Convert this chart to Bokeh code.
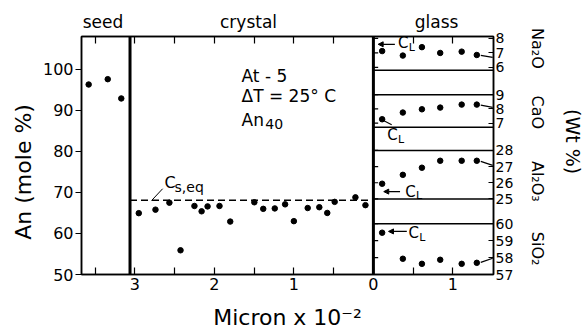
import math
from bokeh.plotting import figure
from bokeh.models import Range1d, LinearAxis, FixedTicker, Label, Arrow, NormalHead, Span
from bokeh.embed import file_html
from bokeh.resources import INLINE

# ---------------- data (distance in micron x 10^-2) ----------------
seed_dist = [3.58, 3.34, 3.17]
seed_an = [96.3, 97.6, 92.9]

crystal_dist = [2.95, 2.74, 2.565, 2.425, 2.25, 2.16, 2.085, 1.935, 1.80,
                1.497, 1.385, 1.24, 1.11, 1.00, 0.826, 0.68, 0.58, 0.487, 0.226, 0.10]
crystal_an = [64.95, 65.8, 67.5, 55.9, 66.7, 65.4, 66.6, 66.7, 62.9,
              67.6, 66.0, 66.1, 67.1, 63.0, 66.2, 66.4, 65.0, 67.7, 68.8, 66.9]
cs_eq = 68.1
seed_boundary = 3.06

glass_dist = [0.11, 0.37, 0.61, 0.84, 1.11, 1.30]
na2o = [7.12, 6.81, 7.39, 6.99, 7.08, 6.85]
cao = [7.27, 7.74, 7.97, 8.09, 8.30, 8.30]
al2o3 = [25.94, 26.49, 26.93, 27.36, 27.36, 27.36]
sio2 = [59.47, 57.93, 57.63, 57.87, 57.63, 57.69]

# bulk glass (far field) values at right edge
bulk_from = 1.35
bulk_to = 1.50
na2o_bulk = [6.82, 6.68]
cao_bulk = [8.26, 8.10]
al2o3_bulk = [27.32, 27.07]
sio2_bulk = [57.72, 57.96]

x_major = [-3.0, -2.0, -1.0, 0.0, 1.0]
x_major_text = ["3", "2", "1", "0", "1"]
x_minor = [-3.5, -2.5, -1.5, -0.5, 0.5]
y_ticks = [50, 60, 70, 80, 90, 100]

region_names = ["seed", "crystal", "glass"]
region_pos = [-3.40, -1.57, 0.795]

oxide_ticks = {"na2o": [6, 7, 8], "cao": [7, 8, 9],
               "al2o3": [25, 26, 27, 28], "sio2": [57, 58, 59, 60]}
oxide_names = ["Na\u2082O", "CaO", "Al\u2082O\u2083", "SiO\u2082"]
oxide_label_pos = [105.1, 89.5, 72.7, 56.3]
# panel boundary lines (oxide units)
panel_lines = {"na2o": [5.79], "cao": [6.70, 9.0], "al2o3": [25.0, 28.0], "sio2": [60.0]}

# ---------------- layout constants ----------------
Y0, Y1 = 50.0, 108.0
X0, X1 = -3.67, 1.51
# oxide value -> main y placement (v0, m0, v1, m1)
PANELS = {"na2o": (6, 100.49, 8, 107.56), "cao": (7, 86.90, 9, 93.83),
          "al2o3": (25, 68.41, 28, 80.24), "sio2": (57, 50.0, 60, 62.37)}

FONT = "DejaVu Sans"


def sub_range(v0, m0, v1, m1):
    k = (m1 - m0) / (v1 - v0)
    return Range1d(start=v0 + (Y0 - m0) / k, end=v0 + (Y1 - m0) / k)


def to_main(name, v):
    v0, m0, v1, m1 = PANELS[name]
    return round(m0 + (v - v0) * (m1 - m0) / (v1 - v0), 4)


p = figure(width=586, height=334, x_range=Range1d(X0, X1), y_range=Range1d(Y0, Y1),
           output_backend="svg", toolbar_location=None,
           min_border_left=81, min_border_right=88, min_border_top=36, min_border_bottom=60,
           x_axis_location=None, y_axis_location=None)
p.grid.visible = False
p.outline_line_color = "black"
p.outline_line_width = 1.5
p.background_fill_color = "white"
p.border_fill_color = "white"

for name in PANELS:
    p.extra_y_ranges[name] = sub_range(*PANELS[name])


def style_axis(ax, size="16px"):
    ax.axis_line_color = "black"
    ax.axis_line_width = 1.5
    ax.major_tick_line_color = "black"
    ax.major_tick_line_width = 1.2
    ax.minor_tick_line_color = "black"
    ax.minor_tick_line_width = 1.2
    ax.major_label_text_font = FONT
    ax.major_label_text_font_size = size
    ax.major_label_text_color = "black"
    ax.axis_label_text_font = FONT
    ax.axis_label_text_font_style = "normal"
    ax.axis_label_text_color = "black"


def label_axis(ax):
    ax.axis_line_color = None
    ax.major_tick_in = 0
    ax.major_tick_out = 0
    ax.minor_tick_in = 0
    ax.minor_tick_out = 0


# ---- left axes ----
yl = LinearAxis(ticker=FixedTicker(ticks=y_ticks))
style_axis(yl)
yl.major_tick_in = 0
yl.major_tick_out = 6
yl.major_label_standoff = 2
p.add_layout(yl, "left")

yl2 = LinearAxis(ticker=FixedTicker(ticks=[75.0]))
style_axis(yl2, "22px")
label_axis(yl2)
yl2.major_label_overrides = {75.0: "An (mole %)"}
yl2.major_label_orientation = "vertical"
yl2.major_label_standoff = 3
p.add_layout(yl2, "left")

# ---- bottom axis ----
xb = LinearAxis(ticker=FixedTicker(ticks=x_major, minor_ticks=x_minor))
style_axis(xb)
xb.major_tick_in = 7
xb.major_tick_out = 0
xb.minor_tick_in = 7
xb.minor_tick_out = 0
xb.major_label_standoff = 3
xb.major_label_overrides = dict(zip(x_major, x_major_text))
xb.axis_label = "Micron x 10\u207b\u00b2"
xb.axis_label_text_font_size = "22px"
xb.axis_label_standoff = 12
p.add_layout(xb, "below")

# ---- top axis (region names) ----
xt = LinearAxis(ticker=FixedTicker(ticks=region_pos, minor_ticks=x_major + x_minor))
style_axis(xt, "17px")
xt.major_tick_in = 0
xt.major_tick_out = 0
xt.minor_tick_in = 7
xt.minor_tick_out = 0
xt.major_label_standoff = 5
xt.major_label_overrides = dict(zip(region_pos, region_names))
p.add_layout(xt, "above")

# ---- right axes ----
r_ticks = []
r_over = {}
for name, vals in oxide_ticks.items():
    for v in vals:
        m = to_main(name, v)
        r_ticks.append(m)
        r_over[m] = str(v)
yr = LinearAxis(ticker=FixedTicker(ticks=r_ticks))
style_axis(yr, "14px")
yr.major_tick_in = 5
yr.major_tick_out = 0
yr.major_label_standoff = 2
yr.major_label_overrides = r_over
p.add_layout(yr, "right")

yr2 = LinearAxis(ticker=FixedTicker(ticks=oxide_label_pos))
style_axis(yr2, "16px")
label_axis(yr2)
yr2.major_label_overrides = dict(zip(oxide_label_pos, oxide_names))
yr2.major_label_orientation = "vertical"
yr2.major_label_standoff = 11
p.add_layout(yr2, "right")

yr3 = LinearAxis(ticker=FixedTicker(ticks=[82.4]))
style_axis(yr3, "19px")
label_axis(yr3)
yr3.major_label_overrides = {82.4: "(Wt %)"}
yr3.major_label_orientation = "vertical"
yr3.major_label_standoff = 12
p.add_layout(yr3, "right")

# inner ticks on glass left boundary
p.segment(x0=[0.0] * len(r_ticks), y0=r_ticks, x1=[0.06] * len(r_ticks), y1=r_ticks,
          line_color="black", line_width=1.2)

# ---- boundaries ----
p.add_layout(Span(location=-seed_boundary, dimension="height", line_color="black", line_width=3))
p.add_layout(Span(location=0, dimension="height", line_color="black", line_width=3))

p.segment(x0=[-seed_boundary], y0=[cs_eq], x1=[0.0], y1=[cs_eq],
          line_color="black", line_width=1.3, line_dash="7 4")

for name, vals in panel_lines.items():
    p.segment(x0=[0.0] * len(vals), y0=vals, x1=[X1] * len(vals), y1=vals,
              line_color="black", line_width=1.5, y_range_name=name)

# ---- points ----
p.scatter(x=[-d for d in seed_dist], y=seed_an, size=5.5, color="black")
p.scatter(x=[-d for d in crystal_dist], y=crystal_an, size=5.5, color="black")
for name, vals, bulk in [("na2o", na2o, na2o_bulk), ("cao", cao, cao_bulk),
                         ("al2o3", al2o3, al2o3_bulk), ("sio2", sio2, sio2_bulk)]:
    p.scatter(x=glass_dist, y=vals, size=5.5, color="black", y_range_name=name)
    p.segment(x0=[bulk_from], y0=[bulk[0]], x1=[bulk_to], y1=[bulk[1]],
              line_color="black", line_width=1.3, y_range_name=name)


# ---- in-frame text ----
def lab(x, y, text, size, align="left", baseline="middle"):
    p.add_layout(Label(x=x, y=y, text=text, text_font=FONT, text_font_size=size,
                       text_align=align, text_baseline=baseline, text_color="black"))


lab(-1.658, 98.4, "At - 5", "17px")
lab(-1.658, 93.6, "\u0394T = 25\u00b0 C", "17px")
lab(-1.658, 87.7, "An", "17px")
lab(-1.36, 86.6, "40", "14px")

lab(-2.627, 72.3, "C", "16px")
lab(-2.50, 71.4, "s,eq", "14px")
p.segment(x0=[-2.79], y0=[68.0], x1=[-2.65], y1=[70.9], line_color="black", line_width=1)


def cl(x, y):
    lab(x, y, "C", "15px")
    lab(x + 0.135, y - 0.9, "L", "11px")


cl(0.31, 106.3)
cl(0.174, 83.9)
cl(0.40, 70.2)
cl(0.44, 60.0)
head = dict(size=5, line_color="black", fill_color="black")
for xs, xe, yy in [(0.27, 0.06, 106.1), (0.335, 0.13, 70.2), (0.42, 0.19, 60.5)]:
    p.add_layout(Arrow(end=NormalHead(**head), x_start=xs, y_start=yy, x_end=xe, y_end=yy,
                       line_color="black", line_width=1.2))
p.segment(x0=[0.12], y0=[87.6], x1=[0.23], y1=[86.5], line_color="black", line_width=1.2)

open("out.html", "w").write(file_html(p, INLINE))
